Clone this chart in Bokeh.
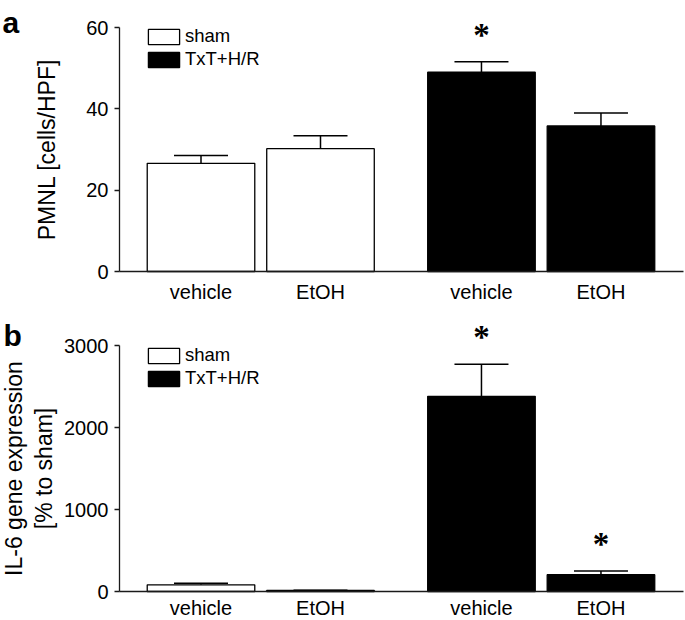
from bokeh.plotting import figure
from bokeh.models import (Range1d, FixedTicker, Whisker, TeeHead, Legend,
                          LegendItem, Label, LabelSet, ColumnDataSource)
from bokeh.layouts import column
from bokeh.embed import file_html
from bokeh.resources import INLINE

# ---- data ----
groups = ["sham", "TxT+H/R"]
treatments = ["vehicle", "EtOH"]

pmnl_mean = [26.6, 30.2, 49.0, 35.8]
pmnl_sem = [1.9, 3.2, 2.6, 3.2]
pmnl_sig = [False, False, True, False]
pmnl_ticks = [0, 20, 40, 60]

il6_mean = [82, 12, 2380, 205]
il6_sem = [18, 3, 390, 45]
il6_sig = [False, False, True, True]
il6_ticks = [0, 1000, 2000, 3000]

# ---- layout / style constants (pixels) ----
FONT = "Liberation Sans"
W = 685
AX = "#1a1a1a"
GROUP_GAP = 0.347      # extra space between the two groups, in bar slots
SLOT_PX = 119.5        # pixels per bar slot
FIRST_PX = 200.5       # centre of the first bar in the figure
YAXIS_PX = 119         # y axis position in the figure
XEND_PX = 683          # right end of the x axis line


def js_key(v):
    return str(int(v)) if float(v).is_integer() else repr(v)


def panel(letter, means, sems, sig, ticks, ylabel, height, top_px, zero_px,
          ylabel_standoff, legend_top, letter_x, letter_base, ylabel_lh, xlab_standoff):
    pos = [round(gi * (len(treatments) + GROUP_GAP) + ti, 3)
           for gi in range(len(groups)) for ti in range(len(treatments))]
    labels = [t for g in groups for t in treatments]
    fills = ["white" if gi == 0 else "black"
             for gi in range(len(groups)) for ti in range(len(treatments))]
    upper = [m + s for m, s in zip(means, sems)]
    src = ColumnDataSource(dict(x=pos, top=means, upper=upper, fill=fills))
    star_src = ColumnDataSource(dict(x=[x for x, s in zip(pos, sig) if s],
                                     y=[u for u, s in zip(upper, sig) if s],
                                     t=["*" for s in sig if s]))

    xs = -FIRST_PX / SLOT_PX
    xe = xs + W / SLOT_PX
    ymax = ticks[-1]
    scale = (zero_px - top_px) / ymax
    ys = -(height - zero_px) / scale
    ye = ymax + top_px / scale

    p = figure(width=W, height=height, x_range=Range1d(xs, xe), y_range=Range1d(ys, ye),
               output_backend="svg", toolbar_location=None, min_border=0)
    p.outline_line_color = None
    p.grid.grid_line_color = None
    p.background_fill_color = "white"
    p.border_fill_color = "white"

    r = p.vbar(x="x", top="top", bottom=0, width=0.9, source=src, fill_color="fill",
               line_color="black", line_width=1.3)

    wh = Whisker(source=src, base="x", lower="top", upper="upper", dimension="height",
                 line_color="black", line_width=1.5,
                 upper_head=TeeHead(size=54, line_color="black", line_width=1.5),
                 lower_head=None)
    p.add_layout(wh)

    stars = LabelSet(x="x", y="y", text="t", source=star_src, y_offset=16,
                     text_align="center", text_baseline="alphabetic",
                     text_font=FONT, text_font_size="33px", text_font_style="bold",
                     text_color="black")
    p.add_layout(stars)

    yaxis_x = xs + YAXIS_PX / SLOT_PX

    # y axis
    yax = p.yaxis[0]
    yax.fixed_location = yaxis_x
    yax.bounds = (0, ymax)
    yax.ticker = FixedTicker(ticks=ticks)
    yax.minor_tick_line_color = None
    yax.major_tick_out = 5
    yax.major_tick_in = 0
    yax.major_label_standoff = 6
    yax.major_label_text_font = FONT
    yax.major_label_text_font_size = "20px"
    yax.major_label_text_color = "black"
    yax.axis_line_color = AX
    yax.axis_line_width = 1.3
    yax.major_tick_line_color = AX
    yax.major_tick_line_width = 1.3
    yax.axis_label = ylabel
    yax.axis_label_text_font = FONT
    yax.axis_label_text_font_size = "23px"
    yax.axis_label_text_font_style = "normal"
    yax.axis_label_text_color = "black"
    yax.axis_label_text_line_height = ylabel_lh
    yax.axis_label_standoff = ylabel_standoff

    # x axis
    overrides = {}
    for v, lab in zip(pos, labels):
        overrides[float(v)] = lab
        overrides[js_key(v)] = lab
    xax = p.xaxis[0]
    xax.fixed_location = 0
    xax.bounds = (yaxis_x, xs + XEND_PX / SLOT_PX)
    xax.ticker = FixedTicker(ticks=pos)
    xax.major_label_overrides = overrides
    xax.major_tick_line_color = None
    xax.minor_tick_line_color = None
    xax.major_tick_out = 0
    xax.major_tick_in = 0
    xax.major_label_standoff = xlab_standoff
    xax.major_label_text_font = FONT
    xax.major_label_text_font_size = "20px"
    xax.major_label_text_color = "black"
    xax.axis_line_color = AX
    xax.axis_line_width = 1.3

    # legend swatches are drawn inset by 10% of the glyph area
    legend = Legend(items=[LegendItem(label=groups[0], renderers=[r], index=0),
                           LegendItem(label=groups[1], renderers=[r], index=2)],
                    location=(144, height - legend_top - 40), glyph_width=39, glyph_height=19,
                    label_height=20, label_standoff=2, spacing=1, padding=0, margin=0,
                    border_line_color=None, background_fill_alpha=0,
                    label_text_font=FONT, label_text_font_size="18.5px",
                    label_text_color="black")
    p.add_layout(legend)

    p.add_layout(Label(x=letter_x, y=height - letter_base, x_units="screen", y_units="screen",
                       text=letter, text_font=FONT, text_font_size="30px",
                       text_font_style="bold", text_baseline="alphabetic",
                       text_color="black"))
    return p


HA, HB = 306, 314
pa = panel("a", pmnl_mean, pmnl_sem, pmnl_sig, pmnl_ticks, "PMNL [cells/HPF]",
           HA, 27, 271, 23, 30, 2, 22, 1.2, 9)
pb = panel("b", il6_mean, il6_sem, il6_sig, il6_ticks, "IL-6 gene expression\n[% to sham]",
           HB, 345 - HA, 591 - HA, 4, 349 - HA, 3, 335 - HA, 1.15, 5)

layout = column(pa, pb, spacing=0)
open("out.html", "w").write(file_html(layout, INLINE))
